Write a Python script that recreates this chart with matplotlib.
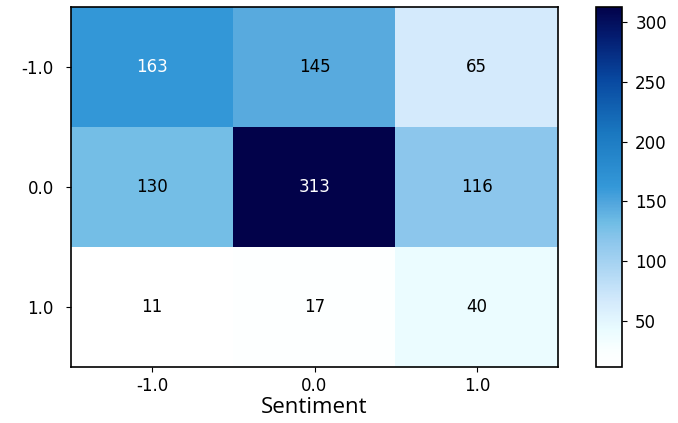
import numpy as np
import matplotlib
matplotlib.use("Agg")
import matplotlib.pyplot as plt
from matplotlib.colors import LinearSegmentedColormap

labels = ["-1.0", "0.0", "1.0"]
counts = np.array([
    [163, 145, 65],
    [130, 313, 116],
    [11, 17, 40],
])
colorbar_ticks = [50, 100, 150, 200, 250, 300]

# vivid blue ramp, white -> cyan-tinted light blue -> navy
cmap = LinearSegmentedColormap.from_list("vivid_blues", [
    (0.00, "#ffffff"),
    (0.04, "#fbffff"),
    (0.10, "#eafcff"),
    (0.18, "#d4eafc"),
    (0.35, "#8cc6ec"),
    (0.40, "#70bde5"),
    (0.45, "#55a8de"),
    (0.50, "#3498d8"),
    (0.65, "#1a78c0"),
    (0.80, "#0848a0"),
    (0.92, "#041c70"),
    (1.00, "#02024a"),
])

W, H = 678, 423
fig = plt.figure(figsize=(W / 100, H / 100), dpi=100)
ax = fig.add_axes([71 / W, 1 - 367 / H, (558 - 71) / W, (367 - 7) / H])
cax = fig.add_axes([596 / W, 1 - 367 / H, (622 - 596) / W, (367 - 7) / H])

vmin, vmax = counts.min(), counts.max()
im = ax.imshow(counts, cmap=cmap, vmin=vmin, vmax=vmax, aspect="auto",
               interpolation="nearest")

thresh = (vmax + vmin) / 2.0
for i in range(counts.shape[0]):
    for j in range(counts.shape[1]):
        v = counts[i, j]
        color = "white" if v > thresh else "black"
        ax.text(j, i, f"{v}", ha="center", va="center", color=color, fontsize=12)

ax.set_xticks(range(len(labels)))
ax.set_xticklabels(labels)
ax.set_yticks(range(len(labels)))
ax.set_yticklabels(labels)
ax.tick_params(axis="x", labelsize=12, pad=4)
ax.tick_params(axis="y", labelsize=12, pad=9)
ax.set_xlabel("Sentiment", fontsize=16, labelpad=1, family="Open Sans")
for s in ax.spines.values():
    s.set_linewidth(1.2)

cb = fig.colorbar(im, cax=cax, ticks=colorbar_ticks)
cb.ax.tick_params(labelsize=12, pad=6)
cb.outline.set_linewidth(1.2)

fig.savefig("out.png", dpi=100)
